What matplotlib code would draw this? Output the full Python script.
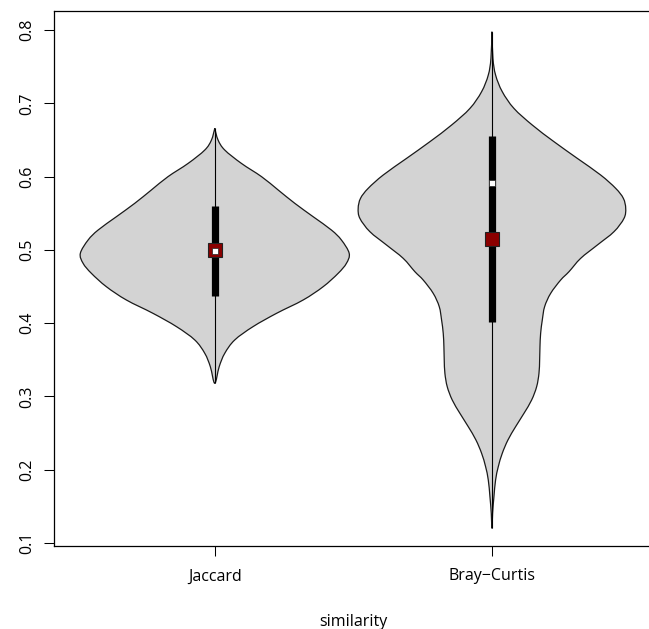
#!/usr/bin/env python
"""Violin plot of Jaccard and Bray-Curtis similarity (vioplot style)."""
import numpy as np
import matplotlib
matplotlib.use("Agg")
import matplotlib.pyplot as plt
from matplotlib.path import Path
from matplotlib.patches import PathPatch

plt.rcParams["font.family"] = ["Open Sans", "DejaVu Sans"]

categories = ["Jaccard", "Bray\u2212Curtis"]

# violin outlines: value (top to bottom) and half width
jac_vals = [0.6658, 0.6499, 0.6363, 0.6181, 0.5999, 0.5817, 0.5635, 0.5453,
            0.5271, 0.5135, 0.4953, 0.4817, 0.4680, 0.4498, 0.4317, 0.4135,
            0.3953, 0.3771, 0.3589, 0.3407, 0.3180]
jac_half = [0.0, 0.012, 0.036, 0.096, 0.169, 0.229, 0.289, 0.355,
            0.421, 0.457, 0.485, 0.475, 0.445, 0.391, 0.319, 0.223,
            0.138, 0.072, 0.036, 0.016, 0.0]

bc_vals = [0.7977, 0.7613, 0.7386, 0.7159, 0.6931, 0.6704, 0.6477, 0.6249,
           0.6022, 0.5840, 0.5704, 0.5567, 0.5431, 0.5249, 0.5067, 0.4885,
           0.4703, 0.4589, 0.4407, 0.4226, 0.4044, 0.3862, 0.3680, 0.3498,
           0.3316, 0.3134, 0.2952, 0.2770, 0.2588, 0.2407, 0.2225, 0.2043,
           0.1861, 0.1633, 0.1406, 0.1201]
bc_half = [0.0, 0.0036, 0.0132, 0.0373, 0.0794, 0.1456, 0.2238, 0.3081,
           0.3923, 0.4465, 0.4741, 0.4826, 0.4765, 0.4404, 0.3803, 0.3201,
           0.2780, 0.2479, 0.2118, 0.1901, 0.1817, 0.1757, 0.1733, 0.1721,
           0.1697, 0.1613, 0.1432, 0.1155, 0.0854, 0.0578, 0.0373, 0.0229,
           0.0132, 0.0072, 0.0024, 0.0]

mins = [0.3180, 0.1201]
maxs = [0.6658, 0.7977]
q1 = [0.4376, 0.4021]
q3 = [0.5599, 0.6554]
medians = [0.4985, 0.5908]
means = [0.5005, 0.5149]


def smooth_loop(xs, ys):
    # Catmull-Rom through the read points, drawn as cubic Bezier segments
    pts = np.column_stack([xs, ys])
    n = len(pts)
    verts = [pts[0]]
    codes = [Path.MOVETO]
    for i in range(n - 1):
        p0 = pts[max(i - 1, 0)]
        p1 = pts[i]
        p2 = pts[i + 1]
        p3 = pts[min(i + 2, n - 1)]
        verts += [p1 + (p2 - p0) / 6, p2 - (p3 - p1) / 6, p2]
        codes += [Path.CURVE4] * 3
    return Path(verts, codes)


fig = plt.figure(figsize=(6.49, 6.29), dpi=100)
ax = fig.add_axes([54 / 649, 83 / 629, 598.7 / 649, 535 / 629])

outlines = [(jac_vals, jac_half), (bc_vals, bc_half)]
for i, (vals, half) in enumerate(outlines):
    pos = i + 1
    vals = np.asarray(vals)
    half = np.asarray(half)
    xs = np.concatenate([pos + half, (pos - half)[::-1][1:]])
    ys = np.concatenate([vals, vals[::-1][1:]])
    ax.add_patch(PathPatch(smooth_loop(xs, ys), facecolor="#d3d3d3",
                           edgecolor="#1a1a1a", lw=0.9, zorder=2))

pos = np.arange(1, len(categories) + 1)
ax.vlines(pos, mins, maxs, color="black", lw=0.8, zorder=3)
ax.vlines(pos, q1, q3, color="black", lw=5.2, zorder=4)
ax.plot(pos, means, ls="none", marker="s", ms=10, mfc="#8b0000",
        mec="#222222", mew=0.8, zorder=5)
ax.plot(pos, medians, ls="none", marker="s", ms=4.2, mfc="white",
        mec="#222222", mew=0.5, zorder=6)

ax.set_xlim(0.42, 2.58)
ax.set_ylim(0.096, 0.826)
ax.set_xticks(pos)
ax.set_xticklabels(categories)
ax.set_yticks([0.1, 0.2, 0.3, 0.4, 0.5, 0.6, 0.7, 0.8])
ax.set_yticklabels(["0.1", "0.2", "0.3", "0.4", "0.5", "0.6", "0.7", "0.8"],
                   rotation=90, va="center")
ax.tick_params(axis="both", length=7.2, width=0.75, labelsize=11.5,
               color="black")
ax.tick_params(axis="x", pad=9)
ax.tick_params(axis="y", pad=6)
ax.set_xlabel("similarity", fontsize=11.5, labelpad=21)
for s in ax.spines.values():
    s.set_linewidth(0.9)

fig.savefig("out.png", dpi=100)
